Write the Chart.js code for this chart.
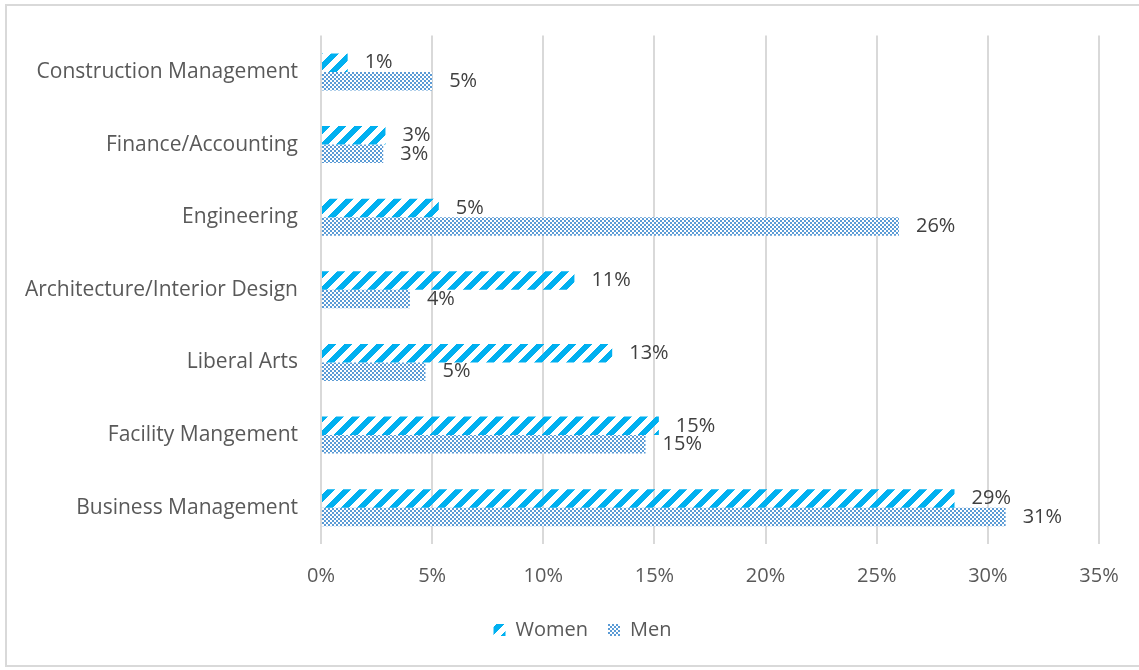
<!DOCTYPE html>
<html lang="en">
<head>
    <meta charset="UTF-8">
    <title>Degree by gender</title>
    <script src="https://cdn.jsdelivr.net/npm/chart.js"></script>
    <style>
        html, body { margin: 0; padding: 0; background: #fff; }
        #wrap { position: relative; width: 1139px; height: 670px; }
    </style>
</head>
<body>
    <div id="wrap"><canvas id="grafica"></canvas></div>

    <script>
        const carreras = ["Construction Management", "Finance/Accounting", "Engineering",
            "Architecture/Interior Design", "Liberal Arts", "Facility Mangement", "Business Management"];
        const mujeres = [1.2, 2.9, 5.3, 11.4, 13.1, 15.2, 28.5];
        const hombres = [5.0, 2.8, 26.0, 4.0, 4.7, 14.6, 30.8];
        const ticksX = [0, 5, 10, 15, 20, 25, 30, 35];

        const fuente = "'Open Sans', sans-serif";

        // rayas diagonales anchas
        function patronRayas(color) {
            const c = document.createElement("canvas");
            c.width = 16; c.height = 16;
            const ctx = c.getContext("2d");
            ctx.fillStyle = color;
            for (let x = 0; x < 16; x++) {
                for (let y = 0; y < 16; y++) {
                    if ((x + y) % 16 < 8) ctx.fillRect(x, y, 1, 1);
                }
            }
            return ctx.createPattern(c, "repeat");
        }

        // cuadritos pequeños
        function patronCuadros(color) {
            const c = document.createElement("canvas");
            c.width = 4; c.height = 4;
            const ctx = c.getContext("2d");
            ctx.fillStyle = "#fff";
            ctx.fillRect(0, 0, 4, 4);
            ctx.fillStyle = color;
            ctx.fillRect(0, 0, 2, 2);
            ctx.fillRect(2, 2, 2, 2);
            return ctx.createPattern(c, "repeat");
        }

        const etiquetas = {
            id: "etiquetas",
            afterDatasetsDraw(chart) {
                const ctx = chart.ctx;
                ctx.save();
                ctx.font = "20px " + fuente;
                ctx.fillStyle = "#404040";
                ctx.textAlign = "left";
                ctx.textBaseline = "middle";
                chart.data.datasets.forEach((ds, i) => {
                    chart.getDatasetMeta(i).data.forEach((bar, j) => {
                        ctx.fillText(Math.round(ds.data[j]) + "%", bar.x + 17, bar.y);
                    });
                });
                ctx.restore();
            }
        };

        const marco = {
            id: "marco",
            beforeDraw(chart) {
                const ctx = chart.ctx;
                ctx.save();
                ctx.strokeStyle = "#D9D9D9";
                ctx.lineWidth = 2;
                ctx.strokeRect(6, 5, 1140, 661);
                ctx.restore();
            }
        };

        // la leyenda va un poco a la derecha del centro
        const moverLeyenda = {
            id: "moverLeyenda",
            afterLayout(chart) {
                chart.legend.left += 33;
                chart.legend.right += 33;
            }
        };

        new Chart(document.getElementById("grafica"), {
            type: "bar",
            data: {
                labels: carreras,
                datasets: [
                    { label: "Women", data: mujeres, backgroundColor: patronRayas("#00B0F0"), borderWidth: 0 },
                    { label: "Men", data: hombres, backgroundColor: patronCuadros("#5B9BD5"), borderWidth: 0 }
                ]
            },
            options: {
                indexAxis: "y",
                responsive: true,
                maintainAspectRatio: false,
                animation: false,
                categoryPercentage: 0.51,
                barPercentage: 1.0,
                layout: { padding: { left: 0, top: 35, right: 40, bottom: 20 } },
                scales: {
                    x: {
                        min: 0, max: 35,
                        afterBuildTicks(scale) { scale.ticks = ticksX.map(v => ({ value: v })); },
                        afterFit(scale) { scale.height = 56; },
                        grid: { color: "#D9D9D9", lineWidth: 2, drawTicks: false },
                        border: { display: false },
                        ticks: {
                            padding: 20,
                            color: "#595959",
                            font: { family: fuente, size: 20 },
                            callback: v => v + "%"
                        }
                    },
                    y: {
                        afterFit(scale) { scale.width = 321; },
                        grid: { display: false, drawTicks: false },
                        border: { display: false },
                        ticks: {
                            padding: 23,
                            color: "#595959",
                            font: { family: fuente, size: 21 }
                        }
                    }
                },
                plugins: {
                    legend: {
                        position: "bottom",
                        labels: {
                            boxWidth: 12, boxHeight: 12,
                            padding: 20,
                            color: "#595959",
                            font: { family: fuente, size: 20 }
                        }
                    },
                    tooltip: { enabled: false }
                }
            },
            plugins: [marco, moverLeyenda, etiquetas]
        });
    </script>
</body>
</html>
